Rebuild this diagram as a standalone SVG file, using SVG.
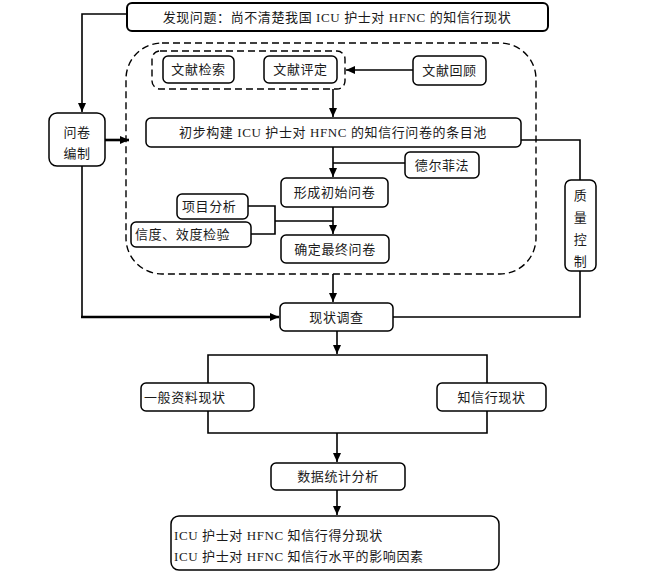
<svg xmlns="http://www.w3.org/2000/svg" width="660" height="585" viewBox="0 0 660 585">
<style>
.b{fill:#fff;stroke:#000;stroke-width:1.5}
.t{font-family:"Liberation Serif","Noto Sans CJK SC",serif;font-size:13px;letter-spacing:0.6px;fill:#1a1a1a}
.c{text-anchor:middle}
.ln{fill:none;stroke:#000;stroke-width:1.6}
.th{fill:none;stroke:#000;stroke-width:2.6}
.d{fill:none;stroke:#000;stroke-width:1.4;stroke-dasharray:7 4}
</style>
<defs>
<marker id="a" markerUnits="userSpaceOnUse" markerWidth="10" markerHeight="10" refX="9" refY="5" orient="auto">
<path d="M0,1 L9,5 L0,9 Z" fill="#000"/>
</marker>
</defs>
<g id="connectors">
<path class="ln" d="M127,14 H82 V112" marker-end="url(#a)"/>
<path class="th" d="M105,140 H129" marker-end="url(#a)"/>
<path class="ln" d="M82,166 V317"/>
<path class="th" d="M81,317 H279" marker-end="url(#a)"/>
<path class="ln" d="M413,70 H346" marker-end="url(#a)"/>
<path class="ln" d="M333,89 V117" marker-end="url(#a)"/>
<path class="ln" d="M333,147 V177" marker-end="url(#a)"/>
<path class="ln" d="M405,163 H333"/>
<path class="ln" d="M333,207 V234" marker-end="url(#a)"/>
<path class="ln" d="M248,206 H275 V234 H251 M275,221 H333"/>
<path class="ln" d="M333,274 V302" marker-end="url(#a)"/>
<path class="ln" d="M521,140 H580 V180 M580,271 V317 H393"/>
<path class="ln" d="M337,331 V354" marker-end="url(#a)"/>
<path class="ln" d="M208,383 V355 H487 V383 M208,411 V433 H487 V411"/>
<path class="ln" d="M337,433 V462" marker-end="url(#a)"/>
<path class="ln" d="M337,490 V515" marker-end="url(#a)"/>
</g>
<g id="group-dashed">
<rect class="d" x="126" y="43" width="410" height="231" rx="36"/>
<rect class="d" x="152" y="51" width="193" height="38" rx="8"/>
</g>
<g id="n-top"><rect class="b" x="127" y="3" width="421" height="28" rx="5" style="stroke-width:2"/><text class="t c" x="337" y="22">发现问题：尚不清楚我国 ICU 护士对 HFNC 的知信行现状</text></g>
<g id="n-wjbz"><rect class="b" x="49" y="113" width="56" height="53" rx="8"/><text class="t c" x="77" y="137">问卷</text><text class="t c" x="77" y="158">编制</text></g>
<g id="n-wxjs"><rect class="b" x="163" y="56" width="71" height="27" rx="5"/><text class="t c" x="198.5" y="74">文献检索</text></g>
<g id="n-wxpd"><rect class="b" x="264" y="56" width="73" height="27" rx="5"/><text class="t c" x="300.5" y="74">文献评定</text></g>
<g id="n-wxhg"><rect class="b" x="413" y="56" width="73" height="29" rx="5"/><text class="t c" x="449.5" y="75">文献回顾</text></g>
<g id="n-tmc"><rect class="b" x="146" y="118" width="375" height="29" rx="5"/><text class="t c" x="333" y="137">初步构建 ICU 护士对 HFNC 的知信行问卷的条目池</text></g>
<g id="n-delphi"><rect class="b" x="405" y="152" width="74" height="26" rx="5"/><text class="t c" x="442" y="169.5">德尔菲法</text></g>
<g id="n-xccs"><rect class="b" x="281" y="178" width="107" height="29" rx="5"/><text class="t c" x="334.5" y="197">形成初始问卷</text></g>
<g id="n-xmfx"><rect class="b" x="177" y="194" width="71" height="25" rx="5"/><text class="t" x="182" y="211">项目分析</text></g>
<g id="n-xdxd"><rect class="b" x="131" y="222" width="120" height="25" rx="5"/><text class="t" x="135" y="239">信度、效度检验</text></g>
<g id="n-qdzz"><rect class="b" x="281" y="235" width="108" height="28" rx="5"/><text class="t c" x="335" y="254">确定最终问卷</text></g>
<g id="n-zlkz"><rect class="b" x="565" y="180" width="31" height="91" rx="6"/><text class="t c" x="580.5" y="200">质</text><text class="t c" x="580.5" y="222">量</text><text class="t c" x="580.5" y="244">控</text><text class="t c" x="580.5" y="266">制</text></g>
<g id="n-xzdc"><rect class="b" x="280" y="303" width="113" height="28" rx="5"/><text class="t c" x="336.5" y="322">现状调查</text></g>
<g id="n-ybzl"><rect class="b" x="141" y="383" width="113" height="28" rx="5"/><text class="t" x="144" y="402">一般资料现状</text></g>
<g id="n-zxx"><rect class="b" x="437" y="383" width="109" height="28" rx="5"/><text class="t c" x="491.5" y="402">知信行现状</text></g>
<g id="n-sjtj"><rect class="b" x="271" y="463" width="134" height="27" rx="5"/><text class="t c" x="338" y="481">数据统计分析</text></g>
<g id="n-result"><rect class="b" x="171" y="516" width="328" height="54" rx="8"/><text class="t" x="174" y="540">ICU 护士对 HFNC 知信行得分现状</text><text class="t" x="174" y="561">ICU 护士对 HFNC 知信行水平的影响因素</text></g>
</svg>
